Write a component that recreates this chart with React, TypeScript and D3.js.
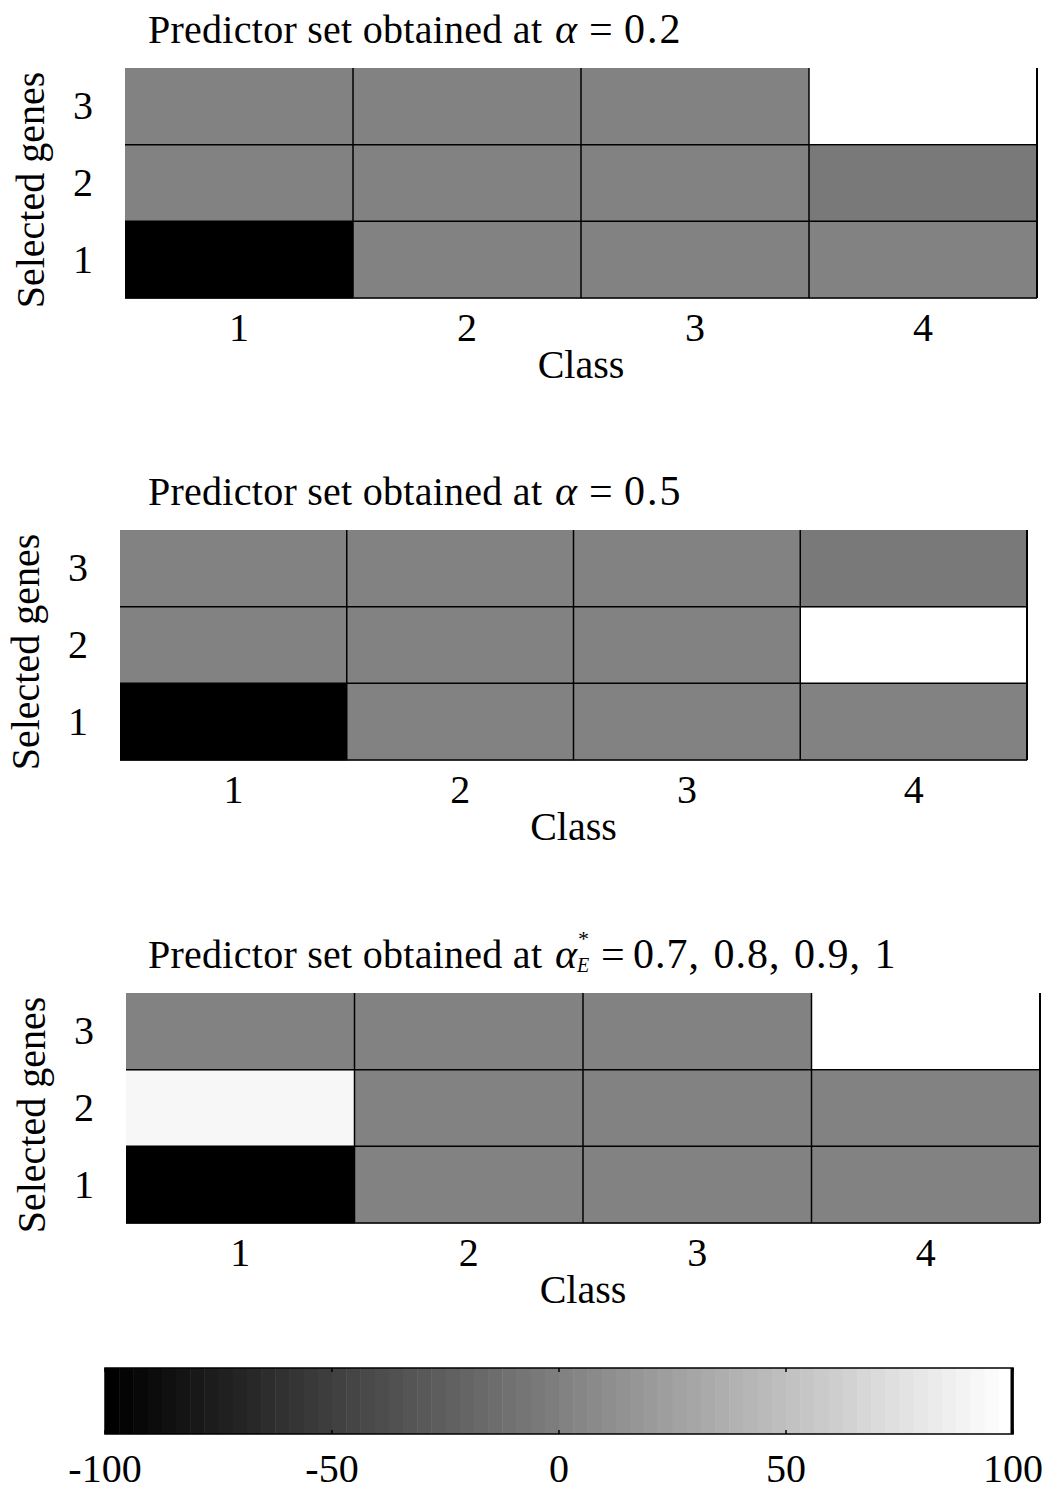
import React from "react";
import * as d3 from "d3";

const width = 1043;
const height = 1494;
const font = "'Liberation Serif', 'Times New Roman', serif";

// class labels on x, gene labels on y (bottom to top)
const classes = [1, 2, 3, 4];
const genes = [1, 2, 3];

// cell values, one row per selected gene (gene 1 first), one column per class
const valuesAlpha02 = [
  [-100, 0, 0, 0],
  [0, 0, 0, -4],
  [0, 0, 0, 100],
];
const valuesAlpha05 = [
  [-100, 0, 0, 0],
  [0, 0, 0, 100],
  [0, 0, 0, -4],
];
const valuesAlphaE = [
  [-100, 0, 0, 0],
  [92, 0, 0, 0],
  [0, 0, 0, 100],
];

const colorbarTicks = [-100, -50, 0, 50, 100];
const nLevels = 64;

const grayLevels = d3.range(nLevels).map((i) => {
  const v = (255 * i) / (nLevels - 1);
  return d3.rgb(v, v, v).formatHex();
});
const color = d3.scaleQuantize<string>().domain([-100, 100]).range(grayLevels);

type Panel = {
  values: number[][];
  left: number;
  right: number;
  top: number;
  bottom: number;
  title: "a" | "b" | "e";
};

const panels: Panel[] = [
  { values: valuesAlpha02, left: 125, right: 1037, top: 68, bottom: 298, title: "a" },
  { values: valuesAlpha05, left: 120, right: 1027, top: 530, bottom: 760, title: "b" },
  { values: valuesAlphaE, left: 126, right: 1040, top: 993, bottom: 1223, title: "e" },
];

function Title({ kind, y }: { kind: string; y: number }) {
  return (
    <g fontFamily={font} fontSize={42}>
      <text x={148} y={y} fontSize={40} textLength={394} lengthAdjust="spacing">
        Predictor set obtained at
      </text>
      <text x={555} y={y} fontStyle="italic">α</text>
      {kind === "e" ? (
        <>
          <text x={578} y={y - 22} fontSize={22}>*</text>
          <text x={577} y={y + 4} fontSize={20} fontStyle="italic">E</text>
          <text x={601} y={y}>=</text>
          <text x={633} y={y} letterSpacing={1} wordSpacing={2}>
            0.7, 0.8, 0.9, 1
          </text>
        </>
      ) : (
        <>
          <text x={589} y={y}>=</text>
          <text x={624} y={y} letterSpacing={2}>
            {kind === "a" ? "0.2" : "0.5"}
          </text>
        </>
      )}
    </g>
  );
}

function HeatPanel({ p }: { p: Panel }) {
  const x = d3.scaleBand<number>().domain(classes).range([p.left, p.right]);
  const y = d3.scaleBand<number>().domain(genes).range([p.bottom, p.top]);
  const bw = x.bandwidth();
  const bh = y.bandwidth();
  return (
    <g>
      <Title kind={p.title} y={p.top - 25} />
      {genes.map((g, gi) =>
        classes.map((c, ci) => (
          <rect
            key={`${g}-${c}`}
            x={x(c)}
            y={y(g)}
            width={bw + 0.5}
            height={bh + 0.5}
            fill={color(p.values[gi][ci])}
          />
        ))
      )}
      {/* grid lines: internal + right + bottom */}
      {classes.slice(1).map((c) => (
        <line key={`v${c}`} x1={x(c)} x2={x(c)} y1={p.top} y2={p.bottom} stroke="#000" strokeWidth={1.5} />
      ))}
      <line x1={p.right} x2={p.right} y1={p.top} y2={p.bottom} stroke="#000" strokeWidth={2} />
      {genes.slice(1).map((g) => (
        <line key={`h${g}`} x1={p.left} x2={p.right} y1={(y(g) as number) + bh} y2={(y(g) as number) + bh} stroke="#000" strokeWidth={1.5} />
      ))}
      <line x1={p.left} x2={p.right} y1={p.bottom} y2={p.bottom} stroke="#000" strokeWidth={1.5} />
      {classes.map((c) => (
        <text key={`xt${c}`} x={(x(c) as number) + bw / 2} y={p.bottom + 43} textAnchor="middle" fontSize={40} fontFamily={font}>
          {c}
        </text>
      ))}
      <text x={(p.left + p.right) / 2} y={p.bottom + 80} textAnchor="middle" fontSize={40} fontFamily={font}>
        Class
      </text>
      {genes.map((g) => (
        <text key={`yt${g}`} x={p.left - 32} y={(y(g) as number) + bh / 2 + 13} textAnchor="end" fontSize={40} fontFamily={font}>
          {g}
        </text>
      ))}
      <text
        transform={`translate(${p.left - 81},${(p.top + p.bottom) / 2 + 7}) rotate(-90)`}
        textAnchor="middle"
        fontSize={40}
        fontFamily={font}
      >
        Selected genes
      </text>
    </g>
  );
}

function Colorbar() {
  const left = 105;
  const right = 1013;
  const top = 1368;
  const bottom = 1434;
  const x = d3.scaleLinear().domain([-100, 100]).range([left, right]);
  const band = d3.scaleBand<number>().domain(d3.range(nLevels)).range([left, right]);
  return (
    <g>
      {d3.range(nLevels).map((i) => (
        <rect key={i} x={band(i)} y={top} width={band.bandwidth() + 0.5} height={bottom - top} fill={grayLevels[i]} />
      ))}
      <rect x={left} y={top} width={right - left} height={bottom - top} fill="none" stroke="#000" strokeWidth={1.5} />
      <line x1={right - 1} x2={right - 1} y1={top} y2={bottom} stroke="#000" strokeWidth={3} />
      {colorbarTicks.map((t) => (
        <g key={t}>
          <line x1={x(t)} x2={x(t)} y1={top} y2={top + 4} stroke="#000" strokeWidth={1.5} />
          <line x1={x(t)} x2={x(t)} y1={bottom} y2={bottom - 4} stroke="#000" strokeWidth={1.5} />
          <text x={x(t)} y={1482} textAnchor="middle" fontSize={40} fontFamily={font}>
            {t}
          </text>
        </g>
      ))}
    </g>
  );
}

export default function App() {
  return (
    <svg width={width} height={height} style={{ position: "absolute", left: 0, top: 0, background: "#fff" }}>
      <rect width={width} height={height} fill="#fff" />
      {panels.map((p, i) => (
        <HeatPanel key={i} p={p} />
      ))}
      <Colorbar />
    </svg>
  );
}
